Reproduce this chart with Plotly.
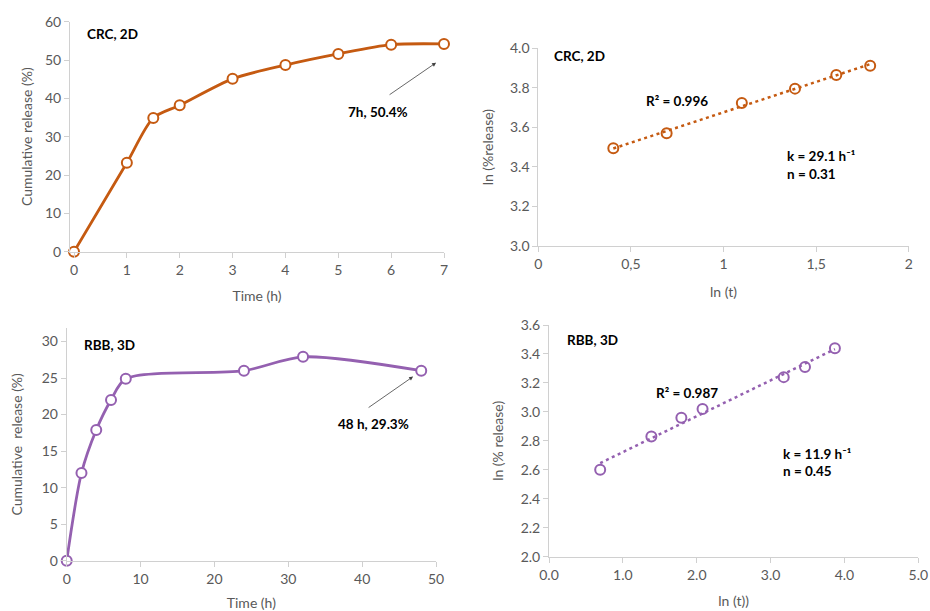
import numpy as np
import plotly.graph_objects as go

# ---------------- data ----------------
crc_time = [0, 1, 1.5, 2, 3, 4, 5, 6, 7]
crc_release = [0, 23.2, 34.9, 38.2, 45.1, 48.7, 51.6, 54.0, 54.2]

crc_ln_t = [0.405, 0.693, 1.099, 1.386, 1.609, 1.792]
crc_ln_rel = [3.494, 3.570, 3.723, 3.796, 3.865, 3.912]

rbb_time = [0, 2, 4, 6, 8, 24, 32, 48]
rbb_release = [0, 12.0, 17.9, 22.0, 24.9, 26.0, 27.9, 26.0]

rbb_ln_t = [0.693, 1.386, 1.792, 2.079, 3.178, 3.466, 3.871]
rbb_ln_rel = [2.60, 2.83, 2.96, 3.02, 3.24, 3.31, 3.44]

ORANGE = "#C55A11"
PURPLE = "#9460B0"
TICK = "#595959"
AXIS = "#D0D0D0"
FONT = "Lato"

fig = go.Figure()

def trend(xs, ys):
    m, b = np.polyfit(xs, ys, 1)
    xx = [min(xs), max(xs)]
    return xx, [m * v + b for v in xx]

# panel 1
fig.add_trace(go.Scatter(x=crc_time, y=crc_release, mode="lines+markers", cliponaxis=False,
    line=dict(color=ORANGE, width=2.8, shape="spline", smoothing=0.8),
    marker=dict(symbol="circle", size=10, color="white", line=dict(color=ORANGE, width=2)),
    xaxis="x", yaxis="y", showlegend=False))

# panel 2
fig.add_trace(go.Scatter(x=crc_ln_t, y=crc_ln_rel, mode="markers", cliponaxis=False,
    marker=dict(symbol="circle", size=10, color="white", line=dict(color=ORANGE, width=2)),
    xaxis="x2", yaxis="y2", showlegend=False))
tx, ty = trend(crc_ln_t, crc_ln_rel)
fig.add_trace(go.Scatter(x=tx, y=ty, mode="lines",
    line=dict(color=ORANGE, width=2.5, dash="3px,3.5px"),
    xaxis="x2", yaxis="y2", showlegend=False))

# panel 3
fig.add_trace(go.Scatter(x=rbb_time, y=rbb_release, mode="lines+markers", cliponaxis=False,
    line=dict(color=PURPLE, width=2.8, shape="spline", smoothing=0.8),
    marker=dict(symbol="circle", size=10, color="white", line=dict(color=PURPLE, width=2)),
    xaxis="x3", yaxis="y3", showlegend=False))

# panel 4
fig.add_trace(go.Scatter(x=rbb_ln_t, y=rbb_ln_rel, mode="markers", cliponaxis=False,
    marker=dict(symbol="circle", size=10, color="white", line=dict(color=PURPLE, width=2)),
    xaxis="x4", yaxis="y4", showlegend=False))
tx, ty = trend(rbb_ln_t, rbb_ln_rel)
fig.add_trace(go.Scatter(x=tx, y=ty, mode="lines",
    line=dict(color=PURPLE, width=2.5, dash="3px,3.5px"),
    xaxis="x4", yaxis="y4", showlegend=False))

W, H = 930, 611

def px_x(a, b):
    return [a / W, b / W]

def px_y(top, bottom):
    return [1 - bottom / H, 1 - top / H]

ax_common = dict(showline=True, linecolor=AXIS, linewidth=1, showgrid=False, zeroline=False,
                 ticks="outside", ticklen=5, tickcolor=AXIS, tickwidth=1, automargin=False,
                 tickfont=dict(family=FONT, size=14, color=TICK))
title_font = dict(family=FONT, size=14, color=TICK)

def T(text, standoff):
    return dict(text=text, font=title_font, standoff=standoff)

fig.update_layout(
    width=W, height=H, margin=dict(l=0, r=0, t=0, b=0, autoexpand=False),
    paper_bgcolor="white", plot_bgcolor="white",
    font=dict(family=FONT),
    xaxis=dict(domain=px_x(70, 444), range=[-0.0757, 7], anchor="y",
               tickvals=[0, 1, 2, 3, 4, 5, 6, 7], title=T("Time (h)", 14), **ax_common),
    yaxis=dict(domain=px_y(21.7, 251.7), range=[0, 60], anchor="x",
               tickvals=[0, 10, 20, 30, 40, 50, 60], title=T("Cumulative release (%)", 9), **ax_common),
    xaxis2=dict(domain=px_x(538.3, 908.7), range=[0, 2], anchor="y2",
                tickvals=[0, 0.5, 1, 1.5, 2], ticktext=["0", "0,5", "1", "1,5", "2"],
                title=T("ln (t)", 16), **ax_common),
    yaxis2=dict(domain=px_y(48.3, 246), range=[3, 4], anchor="x2",
                tickvals=[3, 3.2, 3.4, 3.6, 3.8, 4.0], ticktext=["3.0", "3.2", "3.4", "3.6", "3.8", "4.0"],
                title=T("ln (%release)", 13), **ax_common),
    xaxis3=dict(domain=px_x(66.7, 436), range=[0, 50], anchor="y3",
                tickvals=[0, 10, 20, 30, 40, 50], title=T("Time (h)", 14), **ax_common),
    yaxis3=dict(domain=px_y(328, 560.7), range=[0, 31.85], anchor="x3",
                tickvals=[0, 5, 10, 15, 20, 25, 30], title=T("Cumulative  release (%)", 15), **ax_common),
    xaxis4=dict(domain=px_x(549, 918.3), range=[0, 5], anchor="y4",
                tickvals=[0, 1, 2, 3, 4, 5], ticktext=["0.0", "1.0", "2.0", "3.0", "4.0", "5.0"],
                title=T("ln (t))", 14), **ax_common),
    yaxis4=dict(domain=px_y(325, 556.7), range=[2, 3.6], anchor="x4",
                tickvals=[2.0, 2.2, 2.4, 2.6, 2.8, 3.0, 3.2, 3.4, 3.6],
                ticktext=["2.0", "2.2", "2.4", "2.6", "2.8", "3.0", "3.2", "3.4", "3.6"],
                title=T("ln (% release)", 13), **ax_common),
)

bold = dict(family=FONT, size=13.5, color="black")
ann = []

def label(text, x, y, xref, yref, xanchor="left"):
    ann.append(dict(text="<b>" + text + "</b>", x=x, y=y, xref=xref, yref=yref,
                    xanchor=xanchor, yanchor="middle", showarrow=False, font=bold))

# panel 1 labels
label("CRC, 2D", 0.21, 56.8, "x", "y")
label("7h, 50.4%", 5.75, 36.4, "x", "y", "center")
ann.append(dict(x=6.85, y=49.3, xref="x", yref="y", ax=-48, ay=33, axref="pixel", ayref="pixel",
                showarrow=True, arrowhead=2, arrowsize=1, arrowwidth=0.8, arrowcolor="#404040", text=""))
# panel 2 labels
label("CRC, 2D", 0.074, 3.961, "x2", "y2")
label("R² = 0.996", 0.571, 3.733, "x2", "y2")
label("k = 29.1 h⁻¹", 1.332, 3.455, "x2", "y2")
label("n = 0.31", 1.332, 3.364, "x2", "y2")
# panel 3 labels
label("RBB, 3D", 2.07, 29.5, "x3", "y3")
label("48 h, 29.3%", 41.5, 18.7, "x3", "y3", "center")
ann.append(dict(x=46.9, y=25.2, xref="x3", yref="y3", ax=-46, ay=32, axref="pixel", ayref="pixel",
                showarrow=True, arrowhead=2, arrowsize=1, arrowwidth=0.8, arrowcolor="#404040", text=""))
# panel 4 labels
label("RBB, 3D", 0.217, 3.497, "x4", "y4")
label("R² = 0.987", 1.42, 3.131, "x4", "y4")
label("k = 11.9 h⁻¹", 3.14, 2.709, "x4", "y4")
label("n = 0.45", 3.14, 2.592, "x4", "y4")

fig.update_layout(annotations=ann)
fig.write_html("out.html", config={"displayModeBar": False},
               post_script="document.body.style.margin='0';document.body.style.overflow='hidden';")
